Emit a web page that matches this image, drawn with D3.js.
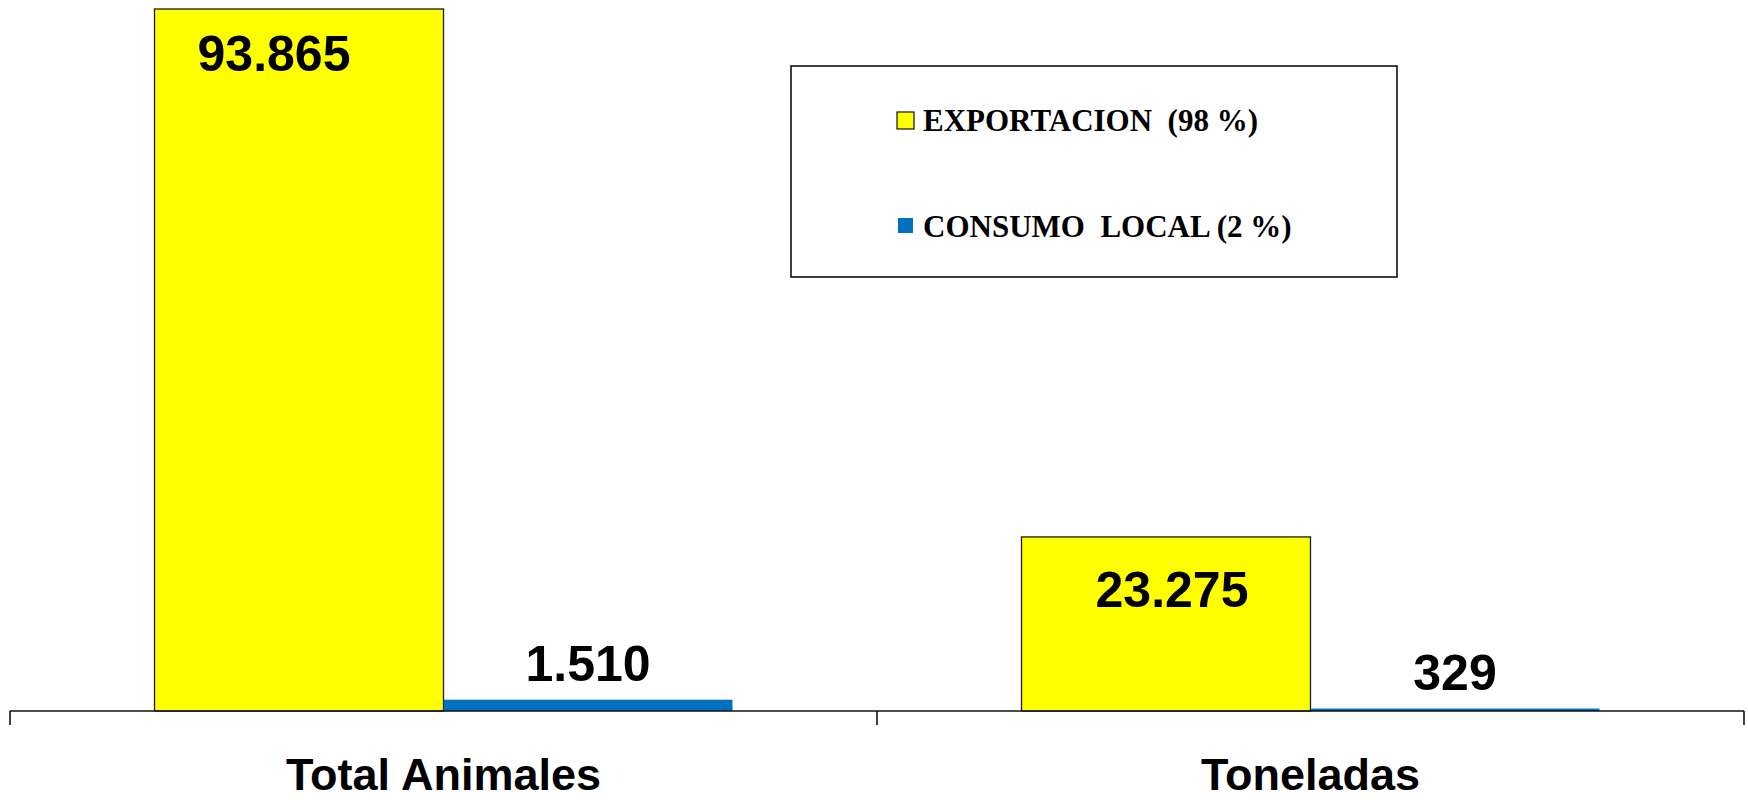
<!DOCTYPE html>
<html>
<head>
<meta charset="utf-8">
<script src="https://cdn.jsdelivr.net/npm/d3@7"></script>
<style>
  html, body { margin: 0; padding: 0; background: #ffffff; }
  svg { display: block; }
</style>
</head>
<body>
<div id="chart"></div>
<script>
// ---- Data ----
const categories = ["Total Animales", "Toneladas"];
const seriesNames = ["EXPORTACION  (98 %)", "CONSUMO  LOCAL (2 %)"];
const exportacion = [93865, 23275];
const consumoLocal = [1510, 329];
const valueLabels = [["93.865", "23.275"], ["1.510", "329"]];

// ---- Layout / style ----
const W = 1748, H = 800;
const colors = ["#FFFF00", "#0070C0"];
const axisY = 711, barTopMax = 9;
const plotLeft = 10, plotRight = 1744;

const svg = d3.select("#chart").append("svg")
  .attr("width", W).attr("height", H)
  .attr("viewBox", `0 0 ${W} ${H}`);
svg.append("rect").attr("width", W).attr("height", H).attr("fill", "#fff");

const seriesValues = [exportacion, consumoLocal];

const x0 = d3.scaleBand().domain(categories).range([plotLeft, plotRight])
  .paddingInner(0).paddingOuter(0);
const x1 = d3.scaleBand().domain(d3.range(seriesNames.length))
  .range([0, x0.bandwidth()]).paddingInner(0).paddingOuter(0.5);
const y = d3.scaleLinear()
  .domain([0, d3.max(exportacion.concat(consumoLocal))])
  .range([axisY, barTopMax]);

const rows = [];
categories.forEach((c, ci) => {
  seriesValues.forEach((vals, si) => {
    rows.push({ cat: c, ci, si, value: vals[ci], label: valueLabels[si][ci] });
  });
});

// bars
svg.append("g").selectAll("rect").data(rows).join("rect")
  .attr("x", d => x0(d.cat) + x1(d.si))
  .attr("y", d => y(d.value))
  .attr("width", x1.bandwidth())
  .attr("height", d => axisY - y(d.value))
  .attr("fill", d => colors[d.si])
  .attr("stroke", d => d.si === 0 ? "#1a1a1a" : "none")
  .attr("stroke-width", 1.3);

// axis
const axisG = svg.append("g");
axisG.append("line")
  .attr("x1", plotLeft).attr("x2", plotRight)
  .attr("y1", axisY).attr("y2", axisY)
  .attr("stroke", "#111").attr("stroke-width", 1.6);
const boundaries = categories.map(c => x0(c)).concat([x0(categories[categories.length - 1]) + x0.bandwidth()]);
axisG.selectAll("line.tick").data(boundaries).join("line")
  .attr("class", "tick")
  .attr("x1", d => d).attr("x2", d => d)
  .attr("y1", axisY).attr("y2", axisY + 14)
  .attr("stroke", "#111").attr("stroke-width", 1.6);
axisG.selectAll("text.cat").data(categories).join("text")
  .attr("class", "cat")
  .attr("x", d => x0(d) + x0.bandwidth() / 2)
  .attr("y", 790)
  .attr("text-anchor", "middle")
  .attr("font-family", "'Liberation Sans', Arial, sans-serif")
  .attr("font-weight", "bold")
  .attr("font-size", 45)
  .attr("fill", "#000")
  .text(d => d);

// value labels
const labelOffset = (d) => {
  if (d.si === 0) return d.ci === 0 ? { dx: -25, dy: 62 } : { dx: 6, dy: 70 };
  return { dx: 0, dy: -19 };
};
svg.append("g").selectAll("text").data(rows).join("text")
  .attr("x", d => x0(d.cat) + x1(d.si) + x1.bandwidth() / 2 + labelOffset(d).dx)
  .attr("y", d => y(d.value) + labelOffset(d).dy)
  .attr("text-anchor", "middle")
  .attr("font-family", "'Liberation Sans', Arial, sans-serif")
  .attr("font-weight", "bold")
  .attr("font-size", 50)
  .attr("fill", "#000")
  .text(d => d.label);

// legend
const lg = svg.append("g");
lg.append("rect")
  .attr("x", 791).attr("y", 66).attr("width", 606).attr("height", 211)
  .attr("fill", "#fff").attr("stroke", "#111").attr("stroke-width", 1.6);
const legendRows = [{ y: 131, sw: 17, swy: 112 }, { y: 237, sw: 15, swy: 218 }];
seriesNames.forEach((name, i) => {
  const r = legendRows[i];
  lg.append("rect")
    .attr("x", 897 + (i === 0 ? 0 : 1)).attr("y", r.swy)
    .attr("width", r.sw).attr("height", r.sw)
    .attr("fill", colors[i])
    .attr("stroke", i === 0 ? "#111" : "none").attr("stroke-width", 1.2);
  lg.append("text")
    .attr("x", 923).attr("y", r.y)
    .attr("font-family", "'Liberation Serif', 'Times New Roman', serif")
    .attr("font-weight", "bold")
    .attr("font-size", 31)
    .attr("fill", "#000")
    .style("white-space", "pre")
    .text(name);
});
</script>
</body>
</html>
